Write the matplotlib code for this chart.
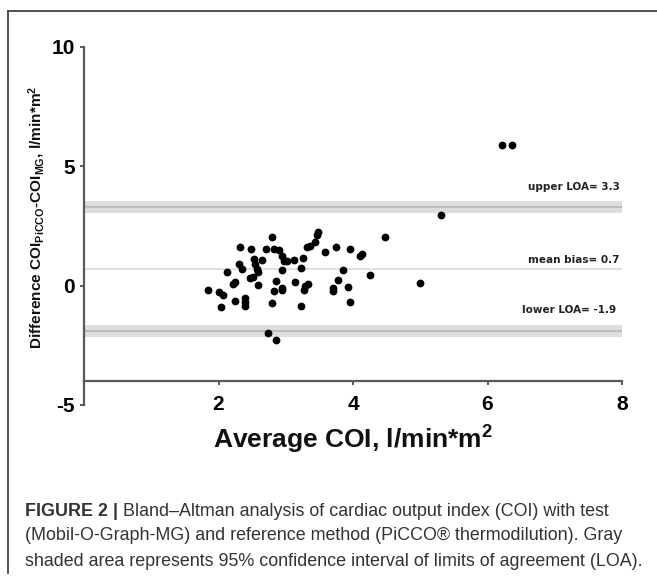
import matplotlib
matplotlib.use("Agg")
import matplotlib.pyplot as plt
from matplotlib.lines import Line2D

plt.rcParams['font.family'] = ['Liberation Sans', 'DejaVu Sans']
plt.rcParams['mathtext.fontset'] = 'custom'
plt.rcParams['mathtext.rm'] = 'Liberation Sans:bold'
plt.rcParams['mathtext.bf'] = 'Liberation Sans:bold'
plt.rcParams['mathtext.it'] = 'Liberation Sans:bold'
plt.rcParams['mathtext.default'] = 'rm'

# ---- data ----
avg_coi = [1.85, 2.00, 2.06, 2.03, 2.12, 2.22, 2.25, 2.25, 2.32, 2.31, 2.35, 2.39, 2.39, 2.40,
           2.48, 2.47, 2.52, 2.53, 2.55, 2.57, 2.59, 2.59, 2.64, 2.70, 2.73, 2.86, 2.80, 2.80,
           2.82, 2.90, 2.85, 2.83, 2.95, 2.97, 2.95, 2.95, 2.94, 3.02, 3.13, 3.14, 3.23, 3.22,
           3.25, 3.27, 3.29, 3.33, 3.31, 3.36, 3.43, 3.46, 3.48, 3.59, 3.74, 3.85, 3.78, 3.71,
           3.70, 3.92, 3.96, 3.95, 4.10, 4.14, 4.26, 4.48, 4.99, 5.31, 6.22, 6.37]
diff_coi = [-0.20, -0.26, -0.39, -0.89, 0.56, 0.07, 0.15, -0.63, 1.62, 0.91, 0.71, -0.53, -0.68, -0.87,
            1.54, 0.32, 0.36, 1.12, 0.92, 0.70, 0.56, 0.04, 1.06, 1.54, -1.98, -2.26, 2.04, -0.72,
            1.54, 1.48, 0.18, -0.24, 1.23, 1.05, 0.64, -0.10, -0.20, 1.02, 1.09, 0.15, -0.87, 0.74,
            1.16, -0.17, -0.03, 0.07, 1.64, 1.67, 1.81, 2.13, 2.25, 1.41, 1.64, 0.64, 0.25, -0.10,
            -0.21, -0.07, 1.54, -0.68, 1.23, 1.33, 0.43, 2.06, 0.12, 2.94, 5.90, 5.90]

mean_bias = 0.7
upper_loa = 3.3
lower_loa = -1.9
upper_ci = (3.05, 3.55)
lower_ci = (-2.15, -1.65)

x_ticks = [2, 4, 6, 8]
y_ticks = [-5, 0, 5, 10]
label_upper = "upper LOA= 3.3"
label_mean = "mean bias= 0.7"
label_lower = "lower LOA= -1.9"
x_label = r"Average COI, l/min*m$^{2}$"
y_label = r"Difference COI$_{PiCCO}$-COI$_{MG}$, l/min*m$^{2}$"
caption_bold = "FIGURE 2 |"
caption_l1 = " Bland\u2013Altman analysis of cardiac output index (COI) with test"
caption_l2 = "(Mobil-O-Graph-MG) and reference method (PiCCO\u00ae thermodilution). Gray"
caption_l3 = "shaded area represents 95% confidence interval of limits of agreement (LOA)."

W, H = 657, 581
fig = plt.figure(figsize=(W / 100, H / 100), dpi=100)
fig.patch.set_facecolor('white')

ax = fig.add_axes([84 / W, 1 - 405 / H, 538 / W, 358 / H])
ax.set_xlim(0, 8)
ax.set_ylim(-5, 10)

spine_col = '#5a5a5a'
for s in ['top', 'right']:
    ax.spines[s].set_visible(False)
ax.spines['left'].set_bounds(-5, 10)
ax.spines['bottom'].set_position(('data', -4))
ax.spines['bottom'].set_bounds(0, 8)
for s in ['left', 'bottom']:
    ax.spines[s].set_color(spine_col)
    ax.spines[s].set_linewidth(1.6)

# confidence bands
ax.axhspan(upper_ci[0], upper_ci[1], color='#dedede', lw=0, zorder=1)
ax.axhspan(lower_ci[0], lower_ci[1], color='#dedede', lw=0, zorder=1)
ax.axhline(upper_loa, color='#bdbdbd', lw=1.5, zorder=1.5)
ax.axhline(lower_loa, color='#bdbdbd', lw=1.5, zorder=1.5)
ax.axhline(mean_bias, color='#dadada', lw=1.2, zorder=1.5)

ax.plot(avg_coi, diff_coi, 'o', color='black', ms=4.6, mec='black', zorder=3)

lab_kw = dict(ha='right', va='center', fontsize=7.5, fontweight='bold', color='#222222',
              family=['DejaVu Sans'])
ax.text(7.97, 4.14, label_upper, **lab_kw)
ax.text(7.97, 1.09, label_mean, **lab_kw)
ax.text(7.91, -1.03, label_lower, **lab_kw)

ax.set_xticks(x_ticks)
ax.set_yticks(y_ticks)
ax.set_yticklabels([str(v) for v in y_ticks])
ax.tick_params(axis='both', direction='out', length=3, width=1.4, color=spine_col,
               labelsize=15, labelcolor='black')
ax.tick_params(axis='x', pad=7)
ax.tick_params(axis='y', pad=3.5)
for lbl in ax.get_xticklabels() + ax.get_yticklabels():
    lbl.set_fontweight('bold')

ax.set_xlabel(x_label, fontsize=19, fontweight='bold', color='#111111')
ax.xaxis.set_label_coords(0.5, (405 - 440) / 358)
ax.xaxis.label.set_va('center')
ax.set_ylabel(y_label, fontsize=11.1, fontweight='bold', color='#111111')
ax.yaxis.set_label_coords((37 - 84) / 538, (405 - 217) / 358)
ax.yaxis.label.set_va('center')

# figure frame lines
fig.add_artist(Line2D([8 / W, 8 / W], [1 - 11 / H, 1 - 573 / H], color='#444444', lw=1.3,
                      transform=fig.transFigure))
fig.add_artist(Line2D([8 / W, 1.0], [1 - 11 / H, 1 - 11 / H], color='#444444', lw=1.3,
                      transform=fig.transFigure))

# caption
cap_col = '#333333'
cap_fs = 12.9
x0 = 25 / W
t_b = fig.text(x0, 1 - 511 / H, caption_bold, fontsize=cap_fs, fontweight='bold', color=cap_col,
               va='center', ha='left')
r = fig.canvas.get_renderer()
bb = t_b.get_window_extent(renderer=r)
fig.text(bb.x1 / W, 1 - 511 / H, caption_l1, fontsize=cap_fs, color=cap_col, va='center', ha='left')
fig.text(x0, 1 - 536 / H, caption_l2, fontsize=cap_fs, color=cap_col, va='center', ha='left')
fig.text(x0, 1 - 561 / H, caption_l3, fontsize=cap_fs, color=cap_col, va='center', ha='left')

fig.savefig('out.png', dpi=100, facecolor='white')
